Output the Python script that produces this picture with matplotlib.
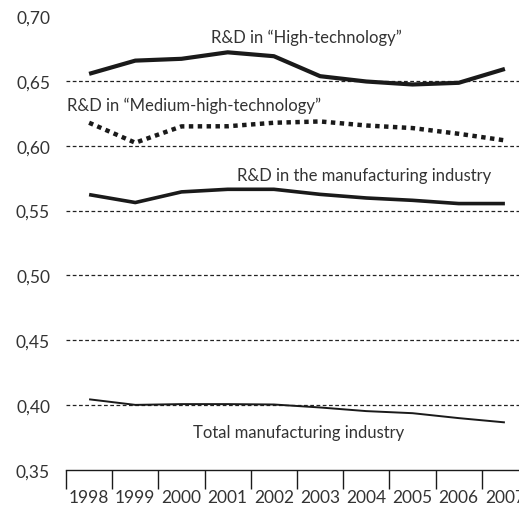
import matplotlib
matplotlib.use("Agg")
import matplotlib.pyplot as plt
import numpy as np

years = ["1998", "1999", "2000", "2001", "2002", "2003", "2004", "2005", "2006", "2007"]
high_tech = [0.6554, 0.6656, 0.6670, 0.6720, 0.6690, 0.6536, 0.6495, 0.6472, 0.6485, 0.6592]
medium_high = [0.6177, 0.6023, 0.6149, 0.6150, 0.6177, 0.6187, 0.6156, 0.6136, 0.6092, 0.6041]
rd_manuf = [0.5623, 0.5562, 0.5644, 0.5664, 0.5664, 0.5625, 0.5597, 0.5579, 0.5554, 0.5554]
total_manuf = [0.4045, 0.4002, 0.4008, 0.4008, 0.4005, 0.3982, 0.3954, 0.3938, 0.3900, 0.3867]
y_ticks = [0.35, 0.40, 0.45, 0.50, 0.55, 0.60, 0.65, 0.70]
y_ticklabels = ["0,35", "0,40", "0,45", "0,50", "0,55", "0,60", "0,65", "0,70"]
grid_levels = [0.40, 0.45, 0.50, 0.55, 0.60, 0.65]

plt.rcParams['font.family'] = ['Lato', 'DejaVu Sans']
txt = '#333333'
line_c = '#1a1a1a'

W, H = 519, 506
fig = plt.figure(figsize=(W / 100, H / 100), dpi=100)
ax = fig.add_axes([66 / W, (H - 471) / H, 462 / W, (471 - 17) / H])
ax.patch.set_alpha(0)

x = np.arange(len(years))
ax.set_xlim(-0.5, len(years) - 0.5)
ax.set_ylim(0.35, 0.70)

for g in grid_levels:
    ax.axhline(g, color='#222222', lw=0.9, ls=(0, (3, 2)), zorder=1)

ax.plot(x, high_tech, color=line_c, lw=3.0, solid_capstyle='butt', zorder=3)
ax.plot(x, medium_high, color=line_c, lw=3.2, ls=(0, (1, 1)), dash_capstyle='butt', zorder=3)
ax.plot(x, rd_manuf, color=line_c, lw=2.6, solid_capstyle='butt', zorder=3)
ax.plot(x, total_manuf, color=line_c, lw=1.4, solid_capstyle='butt', zorder=3)

fs = 12
px = lambda p: -0.5 + (p - 66) / 46.2
ax.text(px(306), 0.6802, "R&D in \u201cHigh-technology\u201d",
        ha='center', va='baseline', fontsize=fs, color=txt)
ax.text(px(67), 0.6272, "R&D in \u201cMedium-high-technology\u201d",
        ha='left', va='baseline', fontsize=fs, color=txt)
ax.text(px(237), 0.5733, "R&D in the manufacturing industry",
        ha='left', va='baseline', fontsize=fs, color=txt)
ax.text(px(193), 0.3754, "Total manufacturing industry",
        ha='left', va='baseline', fontsize=fs, color=txt)

for s in ['top', 'right', 'left']:
    ax.spines[s].set_visible(False)
ax.spines['bottom'].set_color(line_c)
ax.spines['bottom'].set_linewidth(1.0)

ax.set_yticks(y_ticks)
ax.set_yticklabels(y_ticklabels, fontsize=12.5, color=txt)
ax.tick_params(axis='y', length=0, pad=11.5)

ax.set_xticks(np.arange(len(years) + 1) - 0.5)
ax.set_xticklabels([])
ax.tick_params(axis='x', which='major', direction='out', length=14, width=1.0, color=line_c)
ax.set_xticks(x, minor=True)
ax.set_xticklabels(years, minor=True, fontsize=12.5, color=txt)
ax.tick_params(axis='x', which='minor', length=0, pad=14)

fig.savefig("out.png", dpi=100)
